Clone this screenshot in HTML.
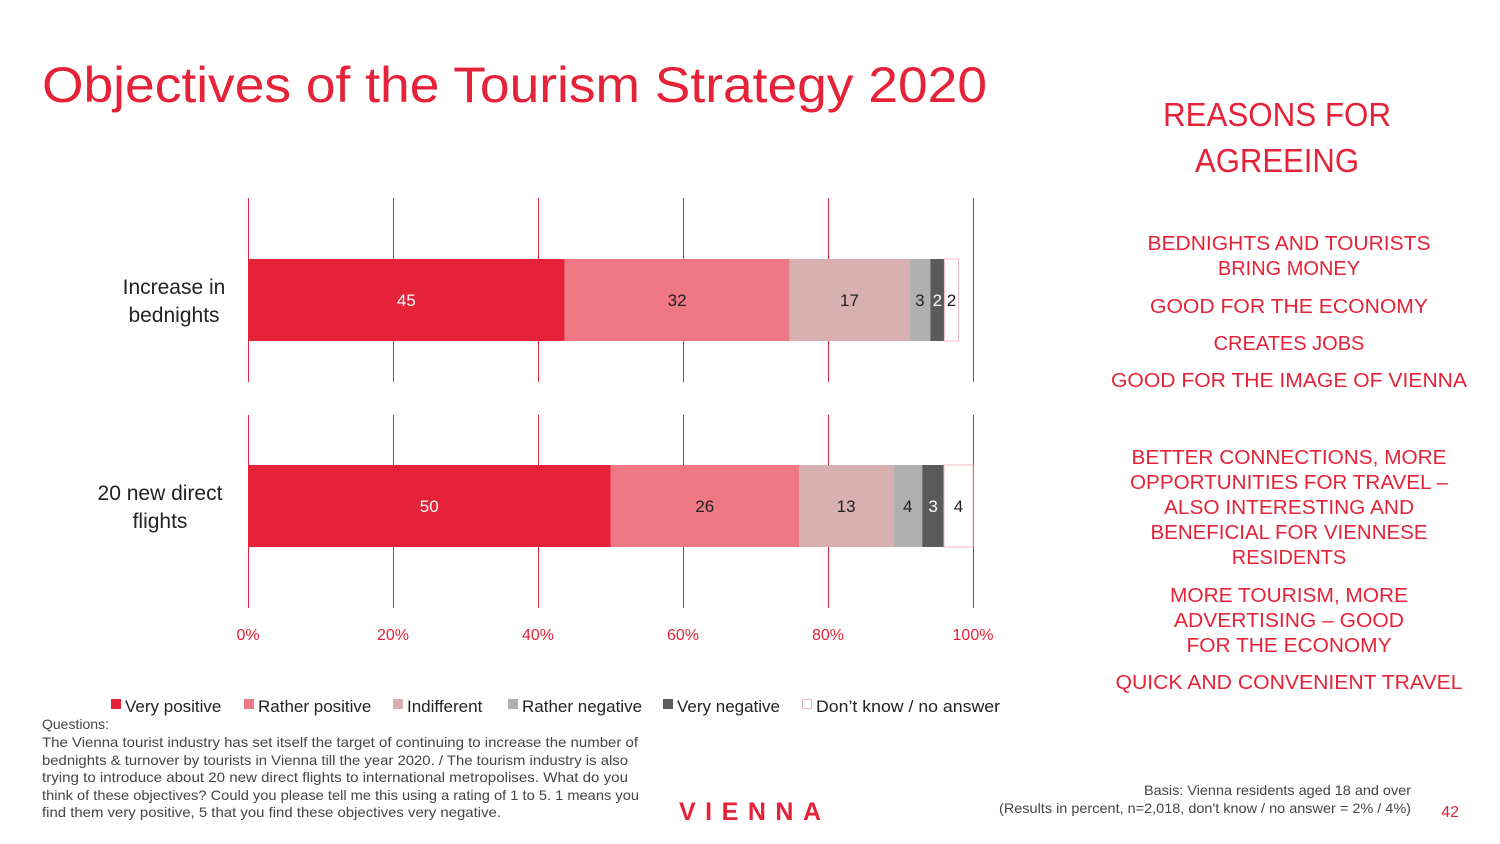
<!DOCTYPE html>
<html><head><meta charset="utf-8"><style>
html,body{margin:0;padding:0;background:#fff;}
svg{display:block;font-family:"Liberation Sans",sans-serif;}
</style></head><body>
<svg id="s" width="1500" height="844" viewBox="0 0 1500 844" xmlns="http://www.w3.org/2000/svg">
<text x="42" y="102" font-size="50" fill="#e52238" textLength="945" lengthAdjust="spacingAndGlyphs">Objectives of the Tourism Strategy 2020</text>
<g fill="#e52238" text-anchor="middle">
<text x="1277" y="126" font-size="33" textLength="228" lengthAdjust="spacingAndGlyphs">REASONS FOR</text>
<text x="1277" y="172" font-size="33" textLength="164" lengthAdjust="spacingAndGlyphs">AGREEING</text>
<g font-size="20">
<text x="1289" y="250" textLength="283" lengthAdjust="spacingAndGlyphs">BEDNIGHTS AND TOURISTS</text>
<text x="1289" y="275">BRING MONEY</text>
<text x="1289" y="313" textLength="278" lengthAdjust="spacingAndGlyphs">GOOD FOR THE ECONOMY</text>
<text x="1289" y="350">CREATES JOBS</text>
<text x="1289" y="387" textLength="356" lengthAdjust="spacingAndGlyphs">GOOD FOR THE IMAGE OF VIENNA</text>
<text x="1289" y="464" textLength="315" lengthAdjust="spacingAndGlyphs">BETTER CONNECTIONS, MORE</text>
<text x="1289" y="489" textLength="318" lengthAdjust="spacingAndGlyphs">OPPORTUNITIES FOR TRAVEL –</text>
<text x="1289" y="514" textLength="250" lengthAdjust="spacingAndGlyphs">ALSO INTERESTING AND</text>
<text x="1289" y="539" textLength="277" lengthAdjust="spacingAndGlyphs">BENEFICIAL FOR VIENNESE</text>
<text x="1289" y="564">RESIDENTS</text>
<text x="1289" y="602" textLength="238" lengthAdjust="spacingAndGlyphs">MORE TOURISM, MORE</text>
<text x="1289" y="627" textLength="230" lengthAdjust="spacingAndGlyphs">ADVERTISING – GOOD</text>
<text x="1289" y="652" textLength="205" lengthAdjust="spacingAndGlyphs">FOR THE ECONOMY</text>
<text x="1289" y="689" textLength="347" lengthAdjust="spacingAndGlyphs">QUICK AND CONVENIENT TRAVEL</text>
</g></g>
<g id="chart"></g>
<g font-size="17" fill="#222">
<rect x="111" y="699" width="10" height="10" fill="#e52238"/><text x="125" y="712">Very positive</text>
<rect x="244" y="699" width="10" height="10" fill="#f07884"/><text x="258" y="712">Rather positive</text>
<rect x="393" y="699" width="10" height="10" fill="#d8b0b0"/><text x="407" y="712">Indifferent</text>
<rect x="508" y="699" width="10" height="10" fill="#b0b0b0"/><text x="522" y="712">Rather negative</text>
<rect x="663" y="699" width="10" height="10" fill="#5a5a5a"/><text x="677" y="712">Very negative</text>
<rect x="802.5" y="699.5" width="9" height="9" fill="#fff" stroke="#f2b8c0"/><text x="816" y="712" textLength="184" lengthAdjust="spacingAndGlyphs">Don’t know / no answer</text>
</g>
<g font-size="14" fill="#444">
<text x="42" y="729">Questions:</text>
<text x="42" y="747" textLength="596" lengthAdjust="spacingAndGlyphs">The Vienna tourist industry has set itself the target of continuing to increase the number of</text>
<text x="42" y="765" textLength="586" lengthAdjust="spacingAndGlyphs">bednights &amp; turnover by tourists in Vienna till the year 2020. / The tourism industry is also</text>
<text x="42" y="782" textLength="586" lengthAdjust="spacingAndGlyphs">trying to introduce about 20 new direct flights to international metropolises. What do you</text>
<text x="42" y="800" textLength="597" lengthAdjust="spacingAndGlyphs">think of these objectives? Could you please tell me this using a rating of 1 to 5. 1 means you</text>
<text x="42" y="817" textLength="459" lengthAdjust="spacingAndGlyphs">find them very positive, 5 that you find these objectives very negative.</text>
</g>
<text x="679" y="820" font-size="25" font-weight="bold" fill="#e52238" textLength="142" lengthAdjust="spacing">VIENNA</text>
<g font-size="14" fill="#444" text-anchor="end">
<text x="1411" y="795" textLength="267" lengthAdjust="spacingAndGlyphs">Basis: Vienna residents aged 18 and over</text>
<text x="1411" y="813" textLength="412" lengthAdjust="spacingAndGlyphs">(Results in percent, n=2,018, don't know / no answer = 2% / 4%)</text>
</g>
<text x="1459" y="817" font-size="16" fill="#e52238" text-anchor="end">42</text>
</svg>
<script>
const categories = ["Increase in bednights", "20 new direct flights"];
const seriesNames = ["Very positive","Rather positive","Indifferent","Rather negative","Very negative","Don't know / no answer"];
const bednightsValues = [45, 32, 17, 3, 2, 2];
const flightsValues = [50, 26, 13, 4, 3, 4];
const tickValues = [0, 20, 40, 60, 80, 100];
const tickLabels = ["0%","20%","40%","60%","80%","100%"];

const NS = "http://www.w3.org/2000/svg";
const g = document.getElementById('chart');
const x0 = 248, x1 = 973;
const xs = v => x0 + (x1 - x0) * v / 100;
const colors = ["#e52238","#f07884","#d8b0b0","#b0b0b0","#5a5a5a","#ffffff"];
const txtColors = ["#fff","#222","#222","#222","#fff","#222"];
const panels = [{top:198,bot:382,barY:259},{top:415,bot:608,barY:465}];
const labelLines = [["Increase in","bednights"],["20 new direct","flights"]];
const all = [bednightsValues, flightsValues];
function mk(tag, attrs){const e=document.createElementNS(NS,tag);for(const k in attrs)e.setAttribute(k,attrs[k]);g.appendChild(e);return e;}

panels.forEach((p,pi)=>{
  tickValues.forEach(t=>{
    const l=mk('line',{x1:Math.round(xs(t))+0.5,x2:Math.round(xs(t))+0.5,y1:p.top,y2:p.bot,stroke:'#e52238','stroke-width':1});
    
    
  });
  const vals = all[pi];
  const total = vals.reduce((a,b)=>a+b,0);
  const k = total > 100 ? 98/total : 1;
  let acc=0;
  vals.forEach((v,si)=>{
    const a=xs(acc*k), b=xs((acc+v)*k);
    const r=mk('rect',{x:a,y:p.barY,width:b-a,height:82,fill:colors[si],stroke:si===5?'#f2b8c0':'none'});
    
    
    const t=mk('text',{x:(a+b)/2,y:p.barY+47,'font-size':17,'text-anchor':'middle',fill:txtColors[si]});
    t.textContent=v;
    
    
    acc+=v;
  });
  labelLines[pi].forEach((s,li)=>{
    const t=mk('text',{x:pi===0?174:160,y:p.barY+35+li*28,'font-size':21,'text-anchor':'middle',fill:'#222'});
    t.textContent=s;
    
    
  });
});
tickValues.forEach((t,i)=>{
  const e=mk('text',{x:xs(t),y:640,'font-size':16,'text-anchor':'middle',fill:'#e52238'});
  e.textContent=tickLabels[i];
  
  
});
</script>
</body></html>
